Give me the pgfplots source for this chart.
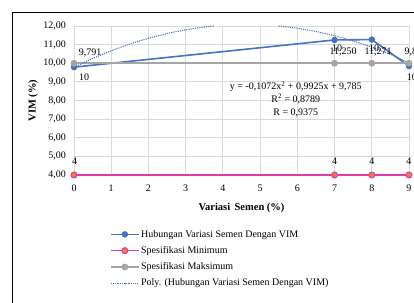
\documentclass[border=0pt]{standalone}
\usepackage{fontspec}
\setmainfont{Liberation Serif}
\usepackage{pgfplots}
\pgfplotsset{compat=1.18}
\definecolor{vblue}{RGB}{68,114,196}
\definecolor{vpink}{RGB}{226,58,170}
\definecolor{vorange}{RGB}{237,125,49}
\definecolor{vgray}{RGB}{165,165,165}
\definecolor{vgrid}{RGB}{217,217,217}
\begin{document}
\begin{tikzpicture}[x=1pt,y=1pt]
\useasboundingbox (0,0) rectangle (414,302);
\draw[black, line width=0.9pt] (12,-10) -- (12,290) -- (430,290);
\begin{axis}[
  at={(74pt,127pt)}, anchor=south west,
  scale only axis, width=335pt, height=149pt,
  xmin=0, xmax=9, ymin=4, ymax=12,
  xtick={0,1,...,9}, ytick={4,5,...,12},
  grid=major, major grid style={vgrid, line width=0.8pt},
  axis line style={draw=none}, tick style={draw=none},
  clip=false, unbounded coords=jump,
  font=\fontsize{10}{12}\selectfont,
  /pgf/number format/assume math mode=true,
  yticklabel style={/pgf/number format/.cd, fixed, fixed zerofill, precision=2, use comma, /tikz/.cd, anchor=east, inner sep=0pt, xshift=-8pt},
  xticklabel style={anchor=center, inner sep=0pt, yshift=-13pt},
  xlabel={\textbf{Variasi\, Semen (\%)}},
  ylabel={\textbf{VIM (\%)}},
  xlabel style={at={(axis description cs:0.5,-0.2215)}, anchor=center, font=\fontsize{10.5}{12}\selectfont},
  ylabel style={at={(axis description cs:-0.1224,0.5)}, anchor=center, font=\fontsize{10.5}{12}\selectfont},
  legend style={at={(axis description cs:0.107,-0.362)}, anchor=north west, draw=none, fill=none, inner sep=0pt, row sep=5.8pt, font=\fontsize{10}{12}\selectfont, nodes={inner xsep=1.5pt, inner ysep=1pt}},
  legend cell align=left,
  legend image code/.code={\draw[mark repeat=2,mark phase=2,#1] plot coordinates {(0pt,0pt) (14pt,0pt) (28pt,0pt)};},
]
\addplot[vblue, line width=1.6pt, mark=*, mark size=2.8pt, mark options={fill=vblue, draw=vblue, line width=0.8pt}] coordinates {(0,9.791) (7,11.250) (8,11.271) (9,9.85)};
\addlegendentry{Hubungan Variasi Semen Dengan VIM}
\addplot[vpink, line width=1.6pt, mark=*, mark size=3pt, mark options={fill=vorange, draw=vpink, line width=1pt}] coordinates {(0,4) (7,4) (8,4) (9,4)};
\addlegendentry{Spesifikasi Minimum}
\addplot[vgray, line width=1.6pt, mark=*, mark size=3pt, mark options={fill=vgray, draw=vgray, line width=0.8pt}] coordinates {(0,10) (7,10) (8,10) (9,10)};
\addlegendentry{Spesifikasi Maksimum}
\addplot[vblue, line width=1.1pt, dash pattern=on 1.1pt off 1.1pt] coordinates {
(0,9.785) (0.5,10.2545) (1,10.6703) (1.5,11.0326) (2,11.3412) (2.5,11.5963) (3,11.7977) (3.5,11.9456) (3.754,12.0)
(4.5,nan)
(5.504,12.0) (6,11.8808) (6.5,11.7071) (7,11.4797) (7.5,11.1988) (8,10.8642) (8.5,10.4761) (9,10.0343)};
\addlegendentry{Poly. (Hubungan Variasi Semen Dengan VIM)}
% data labels
\node[font=\fontsize{10}{12}\selectfont] at (axis cs:0.43,10.55) {9,791};
\node[font=\fontsize{10}{12}\selectfont] at (axis cs:0.27,9.26) {10};
\node[font=\fontsize{10}{12}\selectfont] at (axis cs:7.07,10.82) {10};
\node[font=\fontsize{10}{12}\selectfont] at (axis cs:8.06,10.82) {10};
\node[font=\fontsize{10}{12}\selectfont] at (axis cs:7.23,10.6) {11,250};
\node[font=\fontsize{10}{12}\selectfont] at (axis cs:8.17,10.6) {11,271};
\node[font=\fontsize{10}{12}\selectfont] at (axis cs:9.12,10.6) {9,85};
\node[font=\fontsize{10}{12}\selectfont] at (axis cs:9.08,9.26) {10};
\node[font=\fontsize{10}{12}\selectfont] at (axis cs:0.02,4.75) {4};
\node[font=\fontsize{10}{12}\selectfont] at (axis cs:7,4.75) {4};
\node[font=\fontsize{10}{12}\selectfont] at (axis cs:8,4.75) {4};
\node[font=\fontsize{10}{12}\selectfont] at (axis cs:9,4.75) {4};
\node[font=\fontsize{10}{12.6}\selectfont, align=center, inner sep=0pt] at (axis cs:5.96,8.07) {y = -0,1072x\textsuperscript{2} + 0,9925x + 9,785\\R\textsuperscript{2} = 0,8789\\R = 0,9375};
\end{axis}
\end{tikzpicture}
\end{document}
